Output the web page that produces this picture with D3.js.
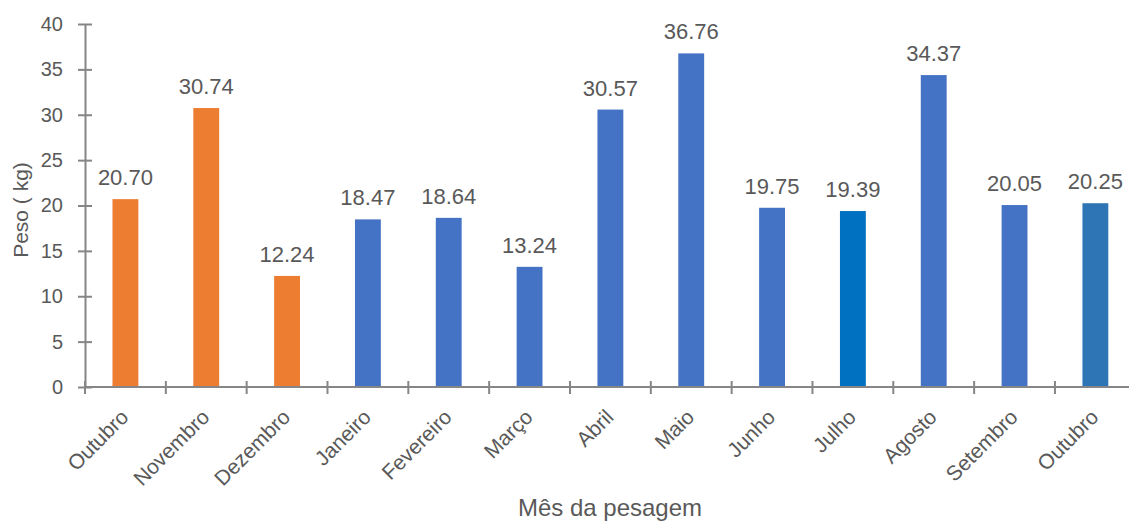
<!DOCTYPE html>
<html><head><meta charset="utf-8">
<script src="https://cdn.jsdelivr.net/npm/d3@7"></script>
<style>body{margin:0;background:#fff}svg{display:block}text{font-family:"Liberation Sans",Arial,sans-serif;fill:#595959}</style>
</head><body>
<svg id="c" width="1129" height="526"></svg>
<script>
const categories = ["Outubro","Novembro","Dezembro","Janeiro","Fevereiro","Março","Abril","Maio","Junho","Julho","Agosto","Setembro","Outubro"];
const values = [20.70,30.74,12.24,18.47,18.64,13.24,30.57,36.76,19.75,19.39,34.37,20.05,20.25];
const labels = ["20.70","30.74","12.24","18.47","18.64","13.24","30.57","36.76","19.75","19.39","34.37","20.05","20.25"];
const colors = ["#ED7D31","#ED7D31","#ED7D31","#4472C4","#4472C4","#4472C4","#4472C4","#4472C4","#4472C4","#0070C0","#4472C4","#4472C4","#2E75B6"];
const yTicks = [0,5,10,15,20,25,30,35,40];

const svg = d3.select("#c");
const x0 = 85, x1 = 85 + 13*80.83, yB = 387, yT = 24;
const ids = d3.range(categories.length);
const x = d3.scaleBand().domain(ids).range([x0, x1]).paddingInner(0.68).paddingOuter(0.34);
const xt = d3.scaleBand().domain(ids).range([x0, x1]);
const y = d3.scaleLinear().domain([0,40]).range([yB, yT]);
const axisCol = "#868686";

// y axis
const ya = svg.append("g").attr("transform",`translate(${x0},0)`)
  .call(d3.axisLeft(y).tickValues(yTicks).tickSize(0).tickPadding(22));
ya.select(".domain").attr("stroke",axisCol).attr("stroke-width",2);
ya.selectAll(".tick text").attr("font-size","20px").attr("fill","#595959").style("font-family","Liberation Sans, Arial");
ya.selectAll(".tick").append("line").attr("x1",-7).attr("x2",7).attr("stroke",axisCol).attr("stroke-width",2);

// bars
svg.append("g").selectAll("rect").data(ids).join("rect")
  .attr("x", i => x(i)).attr("width", x.bandwidth())
  .attr("y", i => y(values[i])).attr("height", i => yB - y(values[i]))
  .attr("fill", i => colors[i]);

// value labels
svg.append("g").selectAll("text").data(ids).join("text")
  .attr("x", i => x(i) + x.bandwidth()/2).attr("y", i => y(values[i]) - 14)
  .attr("text-anchor","middle").attr("font-size","22px").text(i => labels[i]);

// x axis
svg.append("line").attr("x1",x0).attr("x2",x1).attr("y1",yB).attr("y2",yB).attr("stroke",axisCol).attr("stroke-width",2);
svg.append("g").selectAll("line").data(ids).join("line")
  .attr("x1", i => xt(i)).attr("x2", i => xt(i)).attr("y1", yB-6).attr("y2", yB+7)
  .attr("stroke",axisCol).attr("stroke-width",2);
svg.append("g").selectAll("text").data(ids).join("text")
  .attr("transform", i => `translate(${xt(i)+xt.bandwidth()/2-6},${yB+21}) rotate(-45)`)
  .attr("text-anchor","end").attr("dy","0.7em").attr("font-size","21px").text(i => categories[i]);

// titles
svg.append("text").attr("transform","translate(28,210) rotate(-90)").attr("text-anchor","middle")
  .attr("font-size","21px").text("Peso ( kg)");
svg.append("text").attr("x",610).attr("y",516).attr("text-anchor","middle").attr("font-size","24px").text("Mês da pesagem");
</script>
</body></html>
